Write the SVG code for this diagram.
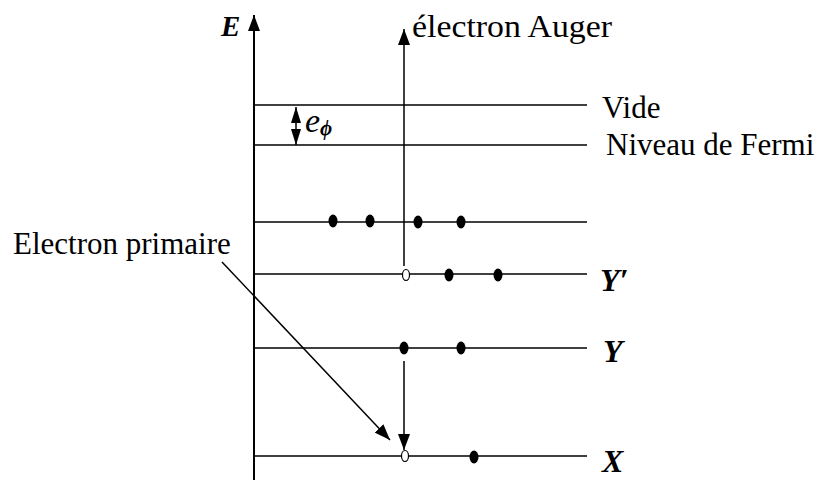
<svg xmlns="http://www.w3.org/2000/svg" width="824" height="483" viewBox="0 0 824 483">
<style>
.lv{stroke:#000;stroke-width:1.5;fill:none}
.ax{stroke:#000;stroke-width:2;fill:none}
.t{font-family:"Liberation Serif","Times New Roman",serif;font-size:31px;fill:#000}
.it{font-family:"Liberation Serif","Times New Roman",serif;font-style:italic;font-weight:bold;font-size:32px;fill:#000}
.itn{font-family:"Liberation Serif","Times New Roman",serif;font-style:italic;font-weight:normal;fill:#000}
.dot{fill:#000}
.hole{fill:#fff;stroke:#000;stroke-width:1.2}
</style>
<defs>
<marker id="ah" markerWidth="16" markerHeight="12" refX="16" refY="6" viewBox="0 0 16 12" orient="auto" markerUnits="userSpaceOnUse">
<path d="M0,0 L16,6 L0,12 Z" fill="#000"/>
</marker>
<marker id="ahs" markerWidth="16" markerHeight="10" refX="16" refY="5" viewBox="0 0 16 10" orient="auto" markerUnits="userSpaceOnUse">
<path d="M0,0 L16,5 L0,10 Z" fill="#000"/>
</marker>
<marker id="ahs0" markerWidth="16" markerHeight="10" refX="0" refY="5" viewBox="0 0 16 10" orient="auto" markerUnits="userSpaceOnUse">
<path d="M16,0 L0,5 L16,10 Z" fill="#000"/>
</marker>
</defs>
<g id="axis">
<line class="ax" x1="254" y1="480" x2="254" y2="15" marker-end="url(#ah)"/>
<text class="it" x="221" y="36" style="font-size:29px">E</text>
</g>
<g id="level-vide">
<line class="lv" x1="254" y1="105" x2="587" y2="105"/>
<text class="t" x="602" y="118">Vide</text>
</g>
<g id="level-fermi">
<line class="lv" x1="254" y1="145" x2="587" y2="145"/>
<text class="t" x="606" y="155">Niveau de Fermi</text>
</g>
<g id="level-valence">
<line class="lv" x1="254" y1="222" x2="587" y2="222"/>
<ellipse class="dot" cx="333" cy="221" rx="4.5" ry="6.5"/>
<ellipse class="dot" cx="370" cy="221" rx="4.5" ry="6.5"/>
<ellipse class="dot" cx="418" cy="222" rx="4.5" ry="6.5"/>
<ellipse class="dot" cx="461" cy="222" rx="4.5" ry="6.5"/>
</g>
<g id="level-Yp">
<line class="lv" x1="254" y1="274" x2="587" y2="274"/>
<ellipse class="hole" cx="406" cy="275" rx="3.5" ry="5.5"/>
<ellipse class="dot" cx="449" cy="275" rx="4.5" ry="6.5"/>
<ellipse class="dot" cx="498" cy="275" rx="4.5" ry="6.5"/>
<text class="it" x="600" y="291">Y′</text>
</g>
<g id="level-Y">
<line class="lv" x1="254" y1="348" x2="587" y2="348"/>
<ellipse class="dot" cx="404" cy="348" rx="4.5" ry="6.5"/>
<ellipse class="dot" cx="461" cy="348" rx="4.5" ry="6.5"/>
<text class="it" x="603" y="362">Y</text>
</g>
<g id="level-X">
<line class="lv" x1="254" y1="456" x2="587" y2="456"/>
<ellipse class="hole" cx="405" cy="456" rx="3.5" ry="5.5"/>
<ellipse class="dot" cx="474" cy="457" rx="4.5" ry="6.5"/>
<text class="it" x="602" y="472">X</text>
</g>
<g id="label-ephi">
<text class="itn" x="305" y="132" style="font-size:34px">e</text>
<text class="it" x="320" y="135" style="font-size:21px">ϕ</text>
</g>
<g id="label-primary">
<text class="t" x="13" y="254">Electron primaire</text>
</g>
<g id="label-auger">
<text class="t" x="412" y="37" textLength="200" lengthAdjust="spacingAndGlyphs">électron Auger</text>
</g>
<g id="connectors">
<line class="lv" x1="404" y1="266" x2="404" y2="29" marker-end="url(#ah)"/>
<line class="lv" x1="296" y1="107" x2="296" y2="145" marker-start="url(#ahs0)" marker-end="url(#ahs)"/>
<line class="lv" x1="404" y1="361" x2="404" y2="450" marker-end="url(#ah)"/>
<line class="lv" x1="222" y1="262" x2="390" y2="440" marker-end="url(#ah)"/>
</g>
</svg>
